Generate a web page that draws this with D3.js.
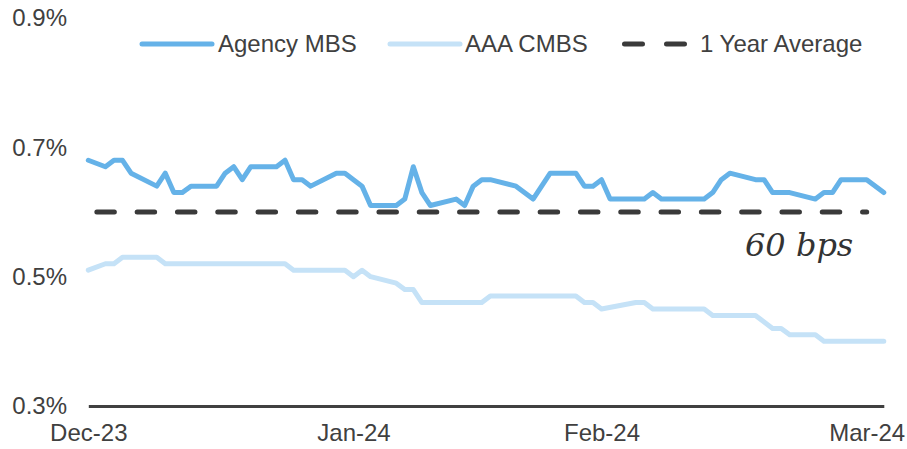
<!DOCTYPE html>
<meta charset="utf-8">
<style>
    body { margin: 0; background: #fff; }
    svg { display: block; }
    .axis text, .legend text {
        font-family: "Liberation Sans", Arial, sans-serif;
        font-size: 24px;
        fill: #404040;
    }
    .line {
        fill: none;
        stroke-width: 5px;
        stroke-linejoin: round;
        stroke-linecap: round;
    }
    .note {
        font-family: "DejaVu Serif", Georgia, serif;
        font-style: italic;
        font-size: 32px;
        fill: #333;
    }
</style>
<body>
<script src="https://cdn.jsdelivr.net/npm/d3@7"></script>
<script>

// day offsets from the first observation, and spreads in %
var agencyDays   = [0, 2, 3, 4, 5, 8, 9, 10, 11, 12, 15, 16, 17, 18, 19, 22, 23, 24, 25, 26, 29, 30, 31, 32, 33, 36,
                    37, 38, 39, 40, 43, 44, 45, 46, 47, 50, 52, 54, 57, 58, 59, 60, 61, 64, 65, 66, 67, 72,
                    73, 74, 75, 78, 79, 80, 82, 85, 86, 87, 88, 91, 93];
var agencyValues = [0.68, 0.67, 0.68, 0.68, 0.66, 0.64, 0.66, 0.63, 0.63, 0.64, 0.64, 0.66, 0.67, 0.65, 0.67, 0.67,
                    0.68, 0.65, 0.65, 0.64, 0.66, 0.66, 0.65, 0.64, 0.61, 0.61,
                    0.62, 0.67, 0.63, 0.61, 0.62, 0.61, 0.64, 0.65, 0.65, 0.64, 0.62, 0.66, 0.66, 0.64, 0.64, 0.65,
                    0.62, 0.62, 0.62, 0.63, 0.62, 0.62,
                    0.63, 0.65, 0.66, 0.65, 0.65, 0.63, 0.63, 0.62, 0.63, 0.63, 0.65, 0.65, 0.63];

var cmbsDays   = [0, 2, 3, 4, 8, 9, 23, 24, 30, 31, 32, 33, 36, 37, 38, 39, 46, 47, 57, 58, 59, 60, 64, 65, 66,
                  72, 73, 78, 80, 81, 82, 85, 86, 93];
var cmbsValues = [0.51, 0.52, 0.52, 0.53, 0.53, 0.52, 0.52, 0.51, 0.51, 0.50, 0.51, 0.50, 0.49, 0.48, 0.48, 0.46,
                  0.46, 0.47, 0.47, 0.46, 0.46, 0.45, 0.46, 0.46, 0.45,
                  0.45, 0.44, 0.44, 0.42, 0.42, 0.41, 0.41, 0.40, 0.40];

var avgDays  = [1, 91];
var avgValue = 0.60;

var tickDays   = [0, 31, 60, 91];
var tickLabels = ["Dec-23", "Jan-24", "Feb-24", "Mar-24"];
var yTicks     = [0.3, 0.5, 0.7, 0.9];

var seriesNames = ["Agency MBS", "AAA CMBS", "1 Year Average"];
var noteText    = "60 bps";

var width = 907, height = 449;

var colors = ["#65b2e8", "#c5e2f7", "#3a3a3a"];

// scales
var x = d3.scaleLinear().domain([0, 93]).range([88.3, 883.8]);
var y = d3.scaleLinear().domain([0.3, 0.9]).range([406, 18]);

var svg = d3.select("body").append("svg")
    .attr("width", width)
    .attr("height", height);

var line = d3.line()
    .x(function (d) { return x(d[0]); })
    .y(function (d) { return y(d[1]); });

function pairs(days, vals) {
    return days.map(function (d, i) { return [d, vals[i]]; });
}

// series
svg.append("path")
    .datum(pairs(cmbsDays, cmbsValues))
    .attr("class", "line")
    .attr("stroke", colors[1])
    .attr("d", line);

svg.append("path")
    .datum(pairs(agencyDays, agencyValues))
    .attr("class", "line")
    .attr("stroke", colors[0])
    .attr("d", line);

svg.append("path")
    .datum(avgDays.map(function (d) { return [d, avgValue]; }))
    .attr("class", "line")
    .attr("stroke", colors[2])
    .attr("stroke-dasharray", "17.5 22.8")
    .attr("d", line);

// y axis, labels only
var yAxis = svg.append("g")
    .attr("class", "axis")
    .attr("transform", "translate(67,0)")
    .call(d3.axisLeft(y).tickValues(yTicks).tickSize(0).tickPadding(0)
        .tickFormat(function (d) { return d.toFixed(1) + "%"; }));
yAxis.select(".domain").remove();

// x axis
var xAxis = svg.append("g")
    .attr("class", "axis")
    .attr("transform", "translate(0," + y(0.3) + ")")
    .call(d3.axisBottom(x).tickValues(tickDays).tickSize(0).tickSizeOuter(0).tickPadding(18)
        .tickFormat(function (d, i) { return tickLabels[i]; }));
xAxis.select(".domain")
    .attr("stroke", "#404040")
    .attr("stroke-width", 3);

// legend
var legX = [142, 390, 622];
var legend = svg.selectAll(".legend")
    .data(seriesNames)
    .enter().append("g")
    .attr("class", "legend")
    .attr("transform", function (d, i) { return "translate(" + legX[i] + ",44)"; });

legend.append("line")
    .attr("class", "line")
    .attr("x1", function (d, i) { return i == 2 ? 2.5 : 0; })
    .attr("x2", function (d, i) { return i == 2 ? 64.5 : 70; })
    .attr("stroke", function (d, i) { return colors[i]; })
    .attr("stroke-dasharray", function (d, i) { return i == 2 ? "18 24" : null; })
    .attr("stroke-linecap", function (d, i) { return i == 2 ? "round" : "butt"; });

legend.append("text")
    .attr("x", function (d, i) { return i == 2 ? 78 : (i == 0 ? 76 : 75); })
    .attr("dy", "0.35em")
    .text(function (d) { return d; });

// annotation
svg.append("text")
    .attr("class", "note")
    .attr("x", 745)
    .attr("y", 256)
    .text(noteText);

</script>
</body>
